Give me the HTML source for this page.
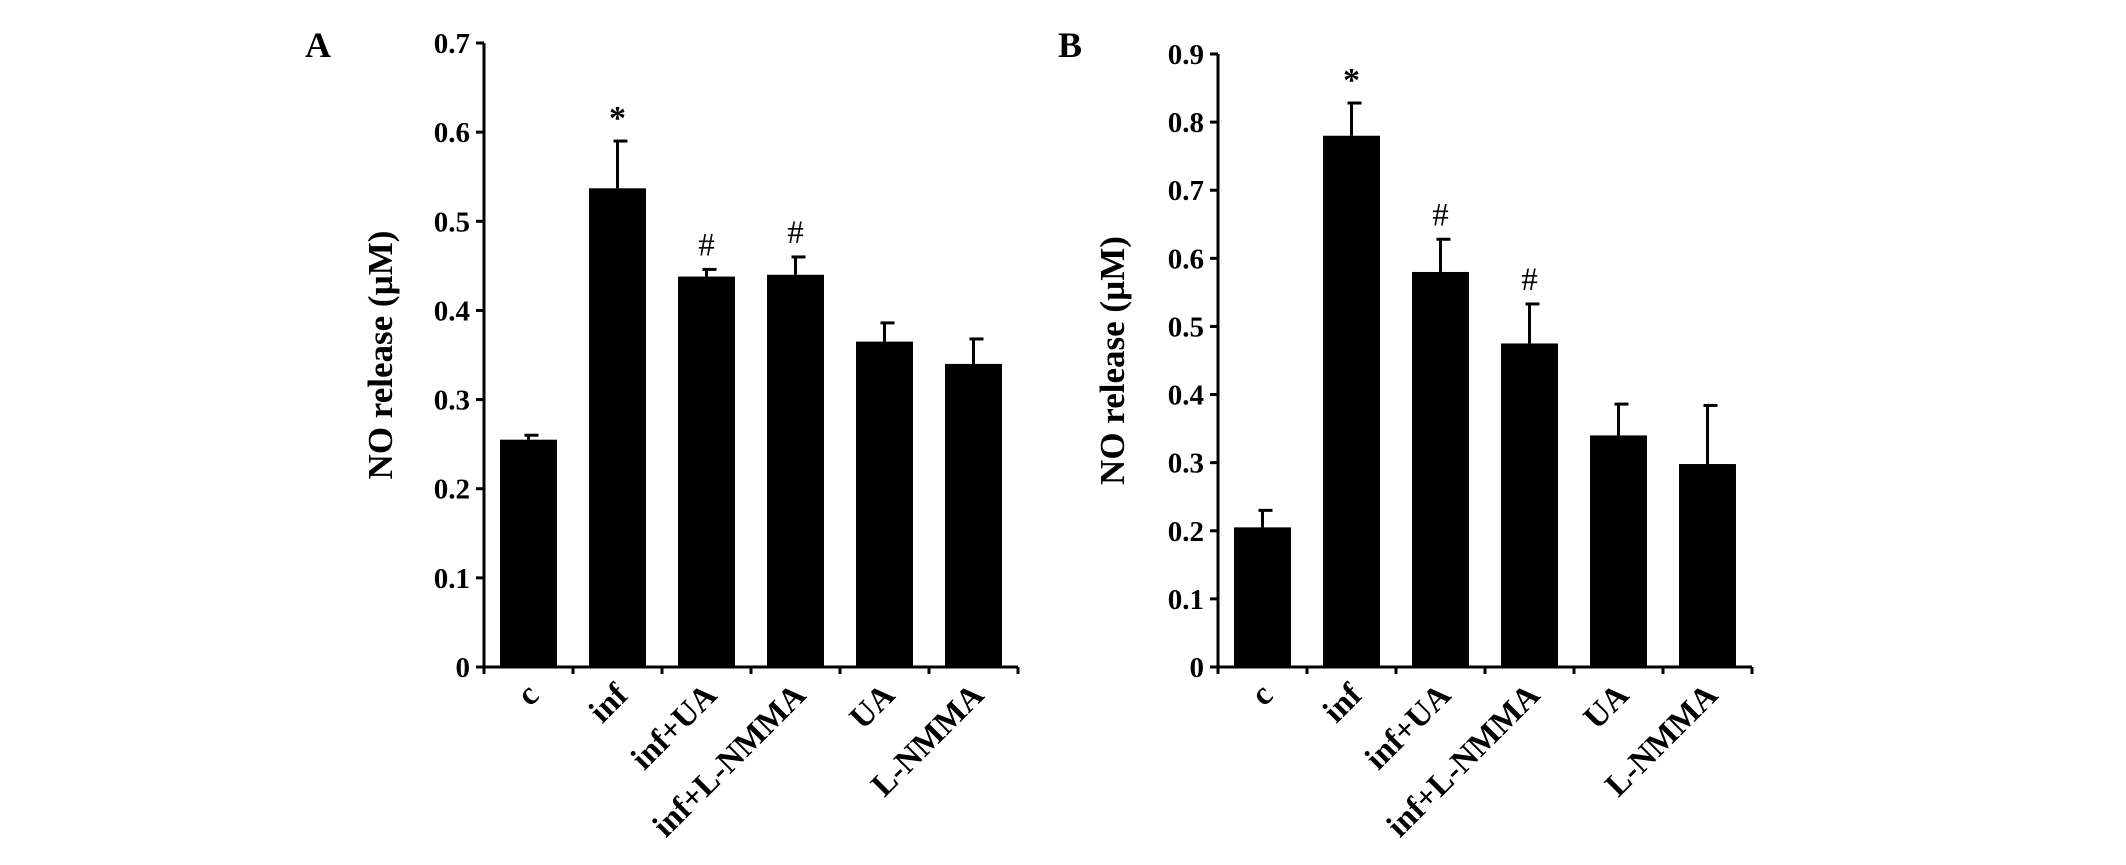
<!DOCTYPE html>
<html><head><meta charset="utf-8"><style>
html,body{margin:0;padding:0;background:#fff;}
svg text{font-family:"Liberation Serif",serif;}
</style></head><body>
<svg id="chart" width="2126" height="860" xmlns="http://www.w3.org/2000/svg"></svg>
<script>
const categories = ["c","inf","inf+UA","inf+L-NMMA","UA","L-NMMA"];
const valuesA = [0.255,0.537,0.438,0.440,0.365,0.340];
const errorsA = [0.005,0.053,0.008,0.020,0.021,0.028];
const marksA = ["","*","#","#","",""];
const ticksA = [0,0.1,0.2,0.3,0.4,0.5,0.6,0.7];
const valuesB = [0.205,0.780,0.580,0.475,0.340,0.298];
const errorsB = [0.025,0.048,0.048,0.058,0.046,0.086];
const marksB = ["","*","#","#","",""];
const ticksB = [0,0.1,0.2,0.3,0.4,0.5,0.6,0.7,0.8,0.9];
const NS="http://www.w3.org/2000/svg";
const svg=document.getElementById('chart');
function mk(tag,attrs,parent){const e=document.createElementNS(NS,tag);for(const k in attrs)e.setAttribute(k,attrs[k]);(parent||svg).appendChild(e);return e;}
function panel(id,letter,lx,x0,x1,yTop,yZero,maxV,ticks,vals,errs,marks,titleX){
  const g=mk('g',{});
  
  
  const y=v=>yZero-(v/maxV)*(yZero-yTop);
  const step=(x1-x0)/categories.length;
  const bw=step*0.64;
  const pl=mk('text',{x:lx,y:57,'font-size':36,'font-weight':'bold'},g);pl.textContent=letter;
  
  
  vals.forEach((v,i)=>{
    const cx=x0+step*(i+0.5);
    const top=y(v+errs[i]);
    const el=mk('line',{x1:cx,x2:cx,y1:y(v),y2:top,stroke:'#000','stroke-width':3},g);
    
    
    const cap=mk('line',{x1:cx-4,x2:cx+10,y1:top,y2:top,stroke:'#000','stroke-width':3},g);
    
    
    const r=mk('rect',{x:cx-bw/2,y:y(v),width:bw,height:yZero-y(v),fill:'#000'},g);
    
    
    if(marks[i]){
      const t=mk('text',{x:cx,y:top-(marks[i]=='*'?12:14),'text-anchor':'middle','font-size':marks[i]=='*'?34:33,'font-weight':marks[i]=='*'?'bold':'normal'},g);
      t.textContent=marks[i];
      
      
    }
    const lab=mk('text',{transform:`translate(${cx+12},${yZero+30}) rotate(-45)`,'text-anchor':'end','font-size':33,'font-weight':'bold'},g);
    lab.textContent=categories[i];
    
    
  });
  const ya=mk('line',{x1:x0,x2:x0,y1:yTop,y2:yZero+1,stroke:'#000','stroke-width':3},g);
  
  
  const xa=mk('line',{x1:x0-8,x2:x1,y1:yZero,y2:yZero,stroke:'#000','stroke-width':3},g);
  
  
  for(let i=0;i<=categories.length;i++){
    const tx=x0+step*i;
    const tk=mk('line',{x1:tx,x2:tx,y1:yZero,y2:yZero+7,stroke:'#000','stroke-width':3},g);
    
    
  }
  ticks.forEach(v=>{
    const ty=y(v);
    const tk=mk('line',{x1:x0-8,x2:x0,y1:ty,y2:ty,stroke:'#000','stroke-width':3},g);
    
    
    const t=mk('text',{x:x0-14,y:ty+10,'text-anchor':'end','font-size':29,'font-weight':'bold'},g);
    t.textContent=v===0?'0':String(v);
    
    
  });
  const tt=mk('text',{transform:`translate(${titleX},${(yTop+yZero)/2}) rotate(-90)`,'text-anchor':'middle','font-size':35,'font-weight':'bold'},g);
  tt.textContent='NO release (µM)';
  
  
}
panel('a','A',305,484,1018,43,667,0.7,ticksA,valuesA,errorsA,marksA,392);
panel('b','B',1058,1218,1752,54,667,0.9,ticksB,valuesB,errorsB,marksB,1124);
</script>
</body></html>
